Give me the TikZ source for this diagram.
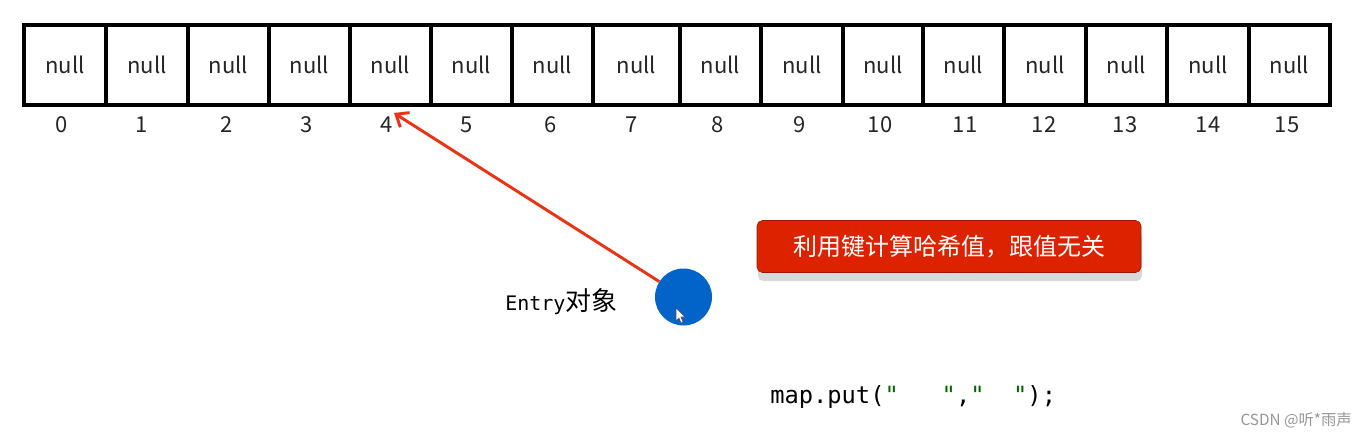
\documentclass[tikz,border=0pt]{standalone}
\usepackage{fontspec}
\setmainfont{Noto Sans CJK SC}
\newfontfamily\cjk{Noto Sans CJK SC}
\newfontfamily\codefont{DejaVu Sans Mono}
\usetikzlibrary{arrows.meta}
\definecolor{arrred}{RGB}{232,52,20}
\definecolor{dotblue}{RGB}{2,100,200}
\definecolor{boxred}{RGB}{221,34,0}
\definecolor{quotegreen}{RGB}{0,100,0}
\definecolor{wmgray}{RGB}{150,150,150}
\tikzset{
  cellbox/.style={draw=black, line width=2.4pt, fill=white},
  celltext/.style={font=\fontsize{16.5}{18}\selectfont, text=black!85},
  idxtext/.style={font=\fontsize{16.5}{18}\selectfont, text=black!85},
  hasharrow/.style={draw=arrred, line width=2.2pt, -{Straight Barb[length=8pt,width=13pt,line width=2.2pt]}},
  notebox/.style={fill=boxred, rounded corners=4pt, draw=boxred!70!black, line width=0.4pt},
}
\begin{document}
\begin{tikzpicture}[x=0.75pt,y=-0.75pt]
\useasboundingbox (0,0) rectangle (1364,439);
% cells
\def\xs{{24,106,188,269,350,431,512,593,680,761,843,923,1004,1086,1167,1249,1330}}
\def\ix{{62,142,227,307,387,467,551,632,718,800,880,965,1044,1125,1208,1287}}
\foreach \i in {0,...,15}{
  \pgfmathsetmacro\xa{\xs[\i]}
  \pgfmathsetmacro\xb{\xs[\i+1]}
  \pgfmathsetmacro\xm{(\xa+\xb)/2}
  \pgfmathsetmacro\xl{\ix[\i]}
  \draw[cellbox] (\xa,25) rectangle (\xb,105);
  \node[celltext] (c\i) at (\xm,65) {null};
  \node[idxtext] (i\i) at (\xl,125) {\i};
}
\coordinate (tip) at (394,113);
% entry circle
\node[circle, fill=dotblue, minimum size=42.75pt, inner sep=0pt] (entry) at (683.5,297) {};
\draw[hasharrow] (entry) -- (tip);
% cursor
\draw[fill=white, draw=black!70, line width=0.4pt] (676,308) -- (676,321) -- (679,318) -- (681,323) -- (683,322) -- (681,317) -- (685,317) -- cycle;
\node[anchor=west, inner sep=0pt] (entrylbl) at (505,302) {{\codefont\fontsize{15}{16}\selectfont Entry}{\cjk\fontsize{19.5}{20}\selectfont 对象}};
% note box
\fill[black!15, rounded corners=4pt] (758,232) rectangle (1142,281);
\node[notebox, minimum width=288pt, minimum height=39pt, inner sep=0pt, text=white, font=\cjk\fontsize{18}{20}\selectfont] (note) at (949,246.5) {利用键计算哈希值，跟值无关};
% code
\node[anchor=west, inner sep=0pt, font=\codefont\fontsize{17.8}{20}\selectfont] (code) at (770,397) {map.put(\textcolor{quotegreen}{"}\ \ \ \textcolor{quotegreen}{"},\textcolor{quotegreen}{"}\ \ \textcolor{quotegreen}{"});};
% watermark
\node[anchor=east, inner sep=0pt, text=wmgray, font=\cjk\fontsize{11.5}{13}\selectfont] (wm) at (1352,420) {CSDN @听*雨声};
\end{tikzpicture}
\end{document}
